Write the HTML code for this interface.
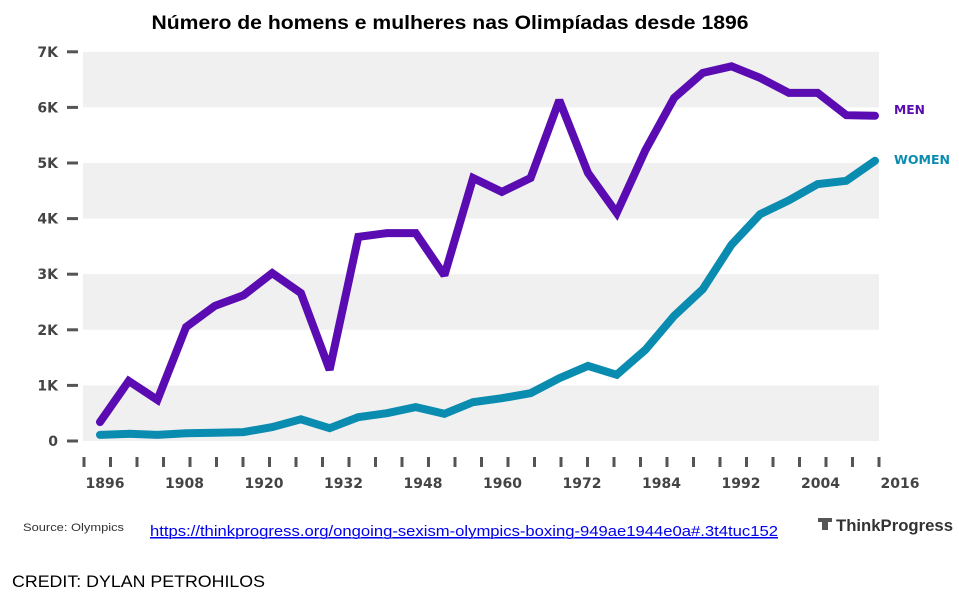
<!DOCTYPE html>
<html><head><meta charset="utf-8">
<style>
html,body{margin:0;padding:0;background:#fff;}
body{width:959px;height:601px;overflow:hidden;}
svg{display:block;}
</style></head>
<body>
<svg id="chart" width="959" height="601" viewBox="0 0 959 601" xmlns="http://www.w3.org/2000/svg">
  <text x="450" y="29" text-anchor="middle" font-family="Liberation Sans, sans-serif" font-weight="bold" font-size="19" fill="#000" textLength="597" lengthAdjust="spacingAndGlyphs">Número de homens e mulheres nas Olimpíadas desde 1896</text>
  <g id="bands"></g>
  <g id="yaxis"></g>
  <g id="xaxis"></g>
  <g id="series"></g>
  <text x="894" y="114" font-family="DejaVu Sans, sans-serif" font-weight="bold" font-size="12" fill="#5a0bb1" textLength="31" lengthAdjust="spacingAndGlyphs">MEN</text>
  <text x="894" y="164" font-family="DejaVu Sans, sans-serif" font-weight="bold" font-size="12" fill="#0a8bb0" textLength="56" lengthAdjust="spacingAndGlyphs">WOMEN</text>
  <text x="23" y="531" font-family="Liberation Sans, sans-serif" font-size="11" fill="#333" textLength="101" lengthAdjust="spacingAndGlyphs">Source: Olympics</text>
  <text x="150" y="536" font-family="Liberation Sans, sans-serif" font-size="15" fill="#0000ee" text-decoration="underline" textLength="628" lengthAdjust="spacingAndGlyphs">https://thinkprogress.org/ongoing-sexism-olympics-boxing-949ae1944e0a#.3t4tuc152</text>
  <line x1="150" y1="538" x2="778" y2="538" stroke="#0000ee" stroke-width="1"/>
  <g>
    <rect x="818" y="518" width="14" height="4" fill="#555"/>
    <rect x="822" y="518" width="6" height="12" fill="#555"/>
    <text x="836" y="531" font-family="Liberation Sans, sans-serif" font-weight="bold" font-size="17" fill="#333" textLength="117" lengthAdjust="spacingAndGlyphs">ThinkProgress</text>
  </g>
  <text x="12" y="587" font-family="Liberation Sans, sans-serif" font-size="17" fill="#000" textLength="253" lengthAdjust="spacingAndGlyphs">CREDIT: DYLAN PETROHILOS</text>
</svg>
<script>
const years = [1896,1900,1904,1906,1908,1912,1920,1924,1928,1932,1936,1948,1952,1956,1960,1964,1968,1972,1976,1980,1984,1988,1992,1996,2000,2004,2008,2012];
const menValues = [0.34,1.08,0.74,2.05,2.43,2.62,3.02,2.66,1.28,3.67,3.74,3.74,2.98,4.73,4.48,4.73,6.13,4.82,4.1,5.23,6.17,6.62,6.74,6.53,6.26,6.26,5.86,5.85];
const womenValues = [0.11,0.13,0.11,0.14,0.15,0.16,0.25,0.39,0.23,0.43,0.5,0.61,0.49,0.7,0.77,0.86,1.13,1.35,1.19,1.64,2.25,2.73,3.53,4.08,4.33,4.62,4.68,5.04];
const yTickLabels = ["0","1K","2K","3K","4K","5K","6K","7K"];
const yTickValues = [0,1,2,3,4,5,6,7];
const xTickLabels = ["1896","1908","1920","1932","1948","1960","1972","1984","1992","2004","2016"];

const NS = "http://www.w3.org/2000/svg";
const plotL = 83, plotR = 879, y0 = 441, pxPerK = 55.6;
const ptL = 100, ptR = 875;
function yScale(v){ return y0 - v * pxPerK; }
function xScale(i){ return ptL + i * (ptR - ptL) / (years.length - 1); }
function mk(tag, attrs, parent){ const e = document.createElementNS(NS, tag); for (const k in attrs) e.setAttribute(k, attrs[k]); parent.appendChild(e); return e; }

const bands = document.getElementById('bands');
for (let k = 0; k < 7; k += 2) {
  const r = mk('rect', {x: plotL, y: yScale(k+1), width: plotR - plotL, height: pxPerK, fill: '#f0f0f0'}, bands);
  
  
}
const yaxis = document.getElementById('yaxis');
yTickValues.forEach((v, i) => {
  const t = mk('rect', {x: 67, y: yScale(v) - 1.5, width: 11, height: 3, fill: '#555'}, yaxis);
  
  
  const l = mk('text', {x: 58, y: yScale(v) + 5, 'text-anchor': 'end', 'font-family': 'DejaVu Sans, sans-serif', 'font-weight': 'bold', 'font-size': '14', fill: '#444'}, yaxis);
  
  
  l.textContent = yTickLabels[i];
});
const xaxis = document.getElementById('xaxis');
const tickStart = 84, tickStep = (879 - 84) / 30;
for (let i = 0; i <= 30; i++) {
  const t = mk('rect', {x: tickStart + i * tickStep - 1.5, y: 457, width: 3, height: 10, fill: '#555'}, xaxis);
  
  
}
xTickLabels.forEach((s, i) => {
  const l = mk('text', {x: tickStart + i * 3 * tickStep + 21, y: 488, 'text-anchor': 'middle', 'font-family': 'DejaVu Sans, sans-serif', 'font-weight': 'bold', 'font-size': '14', fill: '#444'}, xaxis);
  
  
  l.textContent = s;
});
const series = document.getElementById('series');
function line(vals, color, name){
  const pts = vals.map((v, i) => xScale(i).toFixed(1) + ',' + yScale(v).toFixed(1)).join(' ');
  const p = mk('polyline', {points: pts, fill: 'none', stroke: color, 'stroke-width': 8, 'stroke-linejoin': 'miter', 'stroke-miterlimit': 2, 'stroke-linecap': 'round'}, series);
  
  
}
line(womenValues, '#0a8bb0', 'women-line');
line(menValues, '#5a0bb1', 'men-line');
</script>
</body></html>
